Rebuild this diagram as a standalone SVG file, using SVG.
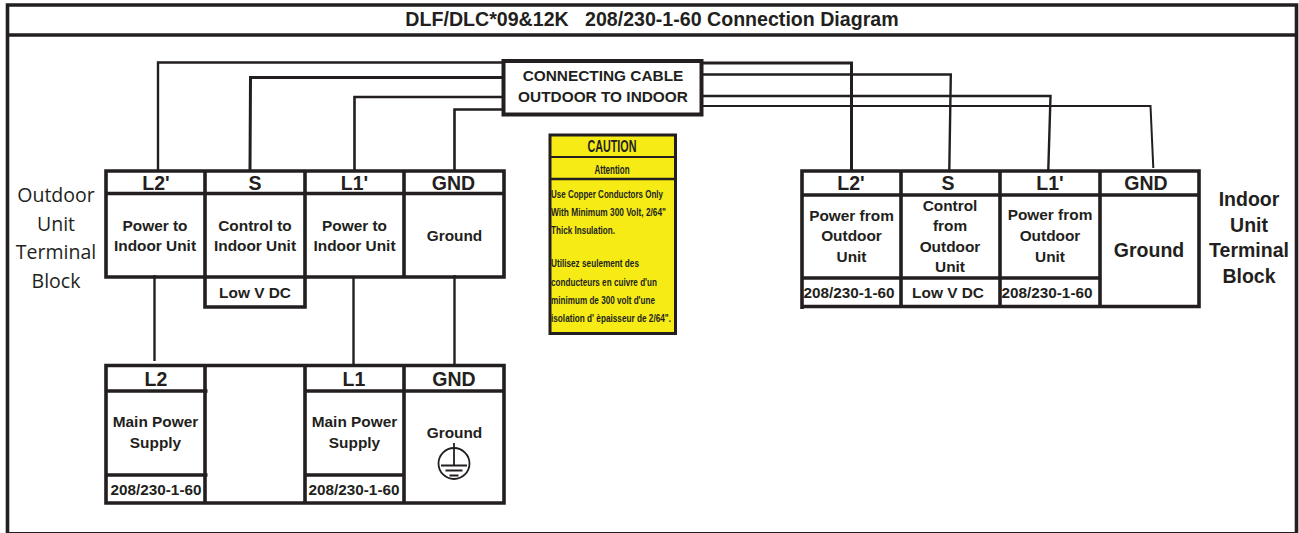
<svg xmlns="http://www.w3.org/2000/svg" width="1299" height="533" viewBox="0 0 1299 533">
<style>
text{font-family:"Liberation Sans",Arial,sans-serif;font-weight:bold;fill:#231f20;text-anchor:middle}
.b{fill:none;stroke:#231f20;stroke-width:3.6}
.w{fill:none;stroke:#231f20;stroke-width:2.4}
.h{font-size:19.6px}
.m{font-size:15.4px}
.s{font-size:15.300px}
.l{font-size:19.500px}
.o{font-family:"Open Sans",sans-serif;font-weight:normal;font-size:19.500px}
.y{font-size:11.500px;text-anchor:start}
</style>
<rect width="1299" height="533" fill="#fff"/>
<g id="frame">
<path class="b" d="M7.500 533V5H1296.500V533"/>
<path class="b" d="M7 35H1297"/>
<path d="M7 532.500H1297" stroke="#231f20" stroke-width="1.200"/>
<text class="h" x="652" y="26" style="white-space:pre">DLF/DLC*09&amp;12K   208/230-1-60 Connection Diagram</text>
</g>
<g id="connectors">
<path class="w" d="M503 62.500H158V170"/>
<path class="w" style="stroke-width:3" d="M503 77.500H250.500L250 170"/>
<path class="w" style="stroke-width:2.600" d="M503 97H354.500V170"/>
<path class="w" style="stroke-width:2.600" d="M503 109.500H454.500V170"/>
<path class="w" style="stroke-width:3" d="M702 63H851.500V170"/>
<path class="w" d="M702 74.500H950.800L949.300 170"/>
<path class="w" d="M702 96H1050.500L1048.300 170"/>
<path class="w" style="stroke-width:2" d="M702 106H1150.500L1153.300 168"/>
<path class="w" d="M154.500 275V361"/>
<path class="w" d="M353.500 278V365"/>
<path class="w" d="M454.500 275V365"/>
</g>
<g id="cable">
<rect class="b" x="503.500" y="61" width="198" height="53.500" fill="#fff" style="fill:#fff;stroke-width:4"/>
<text class="m" x="603" y="81">CONNECTING CABLE</text>
<text class="m" x="603" y="101.500">OUTDOOR TO INDOOR</text>
</g>
<g id="caution">
<rect x="550" y="135" width="125.500" height="198.500" fill="#f6eb14" stroke="#231f20" stroke-width="3"/>
<path d="M550 157H676" stroke="#231f20" stroke-width="2"/>
<path d="M550 179H676" stroke="#231f20" stroke-width="2.500"/>
<text x="612" y="152" font-size="17" textLength="49" lengthAdjust="spacingAndGlyphs">CAUTION</text>
<text x="612" y="174" font-size="12" textLength="35" lengthAdjust="spacingAndGlyphs">Attention</text>
<text class="y" x="551" y="198" textLength="112" lengthAdjust="spacingAndGlyphs">Use Copper Conductors Only</text>
<text class="y" x="551" y="216" textLength="115" lengthAdjust="spacingAndGlyphs">With Minimum 300 Volt, 2/64"</text>
<text class="y" x="551" y="234" textLength="64" lengthAdjust="spacingAndGlyphs">Thick Insulation.</text>
<text class="y" x="551" y="267" textLength="88" lengthAdjust="spacingAndGlyphs">Utilisez seulement des</text>
<text class="y" x="551" y="286" textLength="106" lengthAdjust="spacingAndGlyphs">conducteurs en cuivre d'un</text>
<text class="y" x="551" y="304" textLength="104" lengthAdjust="spacingAndGlyphs">minimum de 300 volt d'une</text>
<text class="y" x="551" y="322" textLength="120" lengthAdjust="spacingAndGlyphs">isolation d' èpaisseur de 2/64".</text>
</g>
<g id="outdoor-block">
<path class="b" d="M106 171H504V277H106ZM106 193.500H504M205 171V307H305V171M404 171V277"/>
<text class="l" x="156" y="189.500">L2'</text>
<text class="l" x="255" y="189.500">S</text>
<text class="l" x="354.500" y="189.500">L1'</text>
<text class="l" x="453.500" y="189.500">GND</text>
<text class="m" x="155" y="231">Power to</text>
<text class="m" x="155" y="251">Indoor Unit</text>
<text class="m" x="255" y="231">Control to</text>
<text class="m" x="255" y="251">Indoor Unit</text>
<text class="m" x="354.500" y="231">Power to</text>
<text class="m" x="354.500" y="251">Indoor Unit</text>
<text class="m" x="454.500" y="241">Ground</text>
<text class="m" x="255" y="298">Low V DC</text>
</g>
<g id="outdoor-label">
<text class="o" x="56" y="202">Outdoor</text>
<text class="o" x="56" y="231">Unit</text>
<text class="o" x="56" y="259">Terminal</text>
<text class="o" x="56" y="288">Block</text>
</g>
<g id="supply-block">
<path class="b" d="M106 365.500H504V503H106ZM106 391H207.500M106 475H207.500M205 365.500V503M305 365.500V503M305 391H504M305 475H404M404 365.500V503"/>
<text class="l" x="156" y="385.500">L2</text>
<text class="l" x="354" y="385.500">L1</text>
<text class="l" x="454" y="385.500">GND</text>
<text class="m" x="155.500" y="427">Main Power</text>
<text class="m" x="155.500" y="448">Supply</text>
<text class="m" x="354.500" y="427">Main Power</text>
<text class="m" x="354.500" y="448">Supply</text>
<text class="m" x="454.500" y="438">Ground</text>
<text class="s" x="156" y="495">208/230-1-60</text>
<text class="s" x="354" y="495">208/230-1-60</text>
<circle cx="454" cy="463.500" r="15.500" fill="none" stroke="#231f20" stroke-width="1.800"/>
<path d="M454 443V465M441 465.500H467M445.500 470.500H462.500M449.500 475.500H458.500" fill="none" stroke="#231f20" stroke-width="1.800"/>
</g>
<g id="indoor-block">
<path class="b" d="M802 309V171H1199V306.500H802M802 195H1199M802 278H1100M901 171V306.500M1000 171V306.500M1100 171V306.500"/>
<text class="l" x="851" y="189.500">L2'</text>
<text class="l" x="948" y="189.500">S</text>
<text class="l" x="1050" y="189.500">L1'</text>
<text class="l" x="1146" y="189.500">GND</text>
<text class="m" x="851.500" y="221">Power from</text>
<text class="m" x="851.500" y="241">Outdoor</text>
<text class="m" x="851.500" y="262">Unit</text>
<text class="m" x="950" y="211">Control</text>
<text class="m" x="950" y="231">from</text>
<text class="m" x="950" y="252">Outdoor</text>
<text class="m" x="950" y="272">Unit</text>
<text class="m" x="1050" y="220">Power from</text>
<text class="m" x="1050" y="241">Outdoor</text>
<text class="m" x="1050" y="262">Unit</text>
<text x="1149" y="257" font-size="19.500">Ground</text>
<text class="s" x="849" y="298">208/230-1-60</text>
<text class="m" x="948" y="298">Low V DC</text>
<text class="s" x="1047" y="298">208/230-1-60</text>
</g>
<g id="indoor-label">
<text class="l" x="1249" y="206">Indoor</text>
<text class="l" x="1249" y="232">Unit</text>
<text class="l" x="1249" y="257">Terminal</text>
<text class="l" x="1249" y="283">Block</text>
</g>
</svg>
